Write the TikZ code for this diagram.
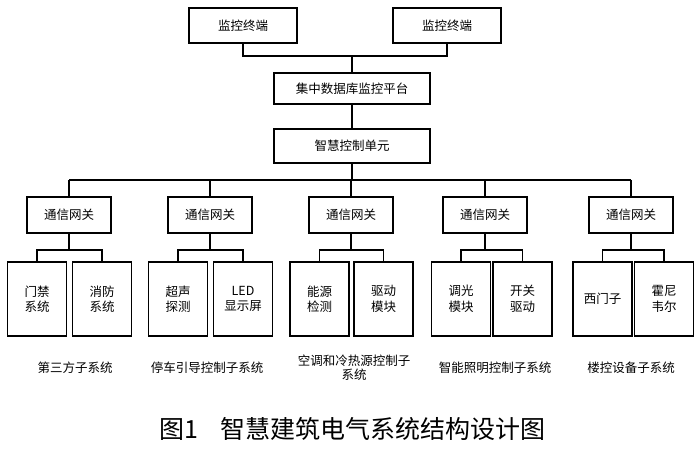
\documentclass[tikz,border=0pt]{standalone}
\usepackage{fontspec}
\setmainfont{Noto Sans CJK SC}
\usepackage{tikz}
\tikzset{
    termbox/.style={draw, minimum width=108pt, minimum height=35pt, inner sep=0pt, font=\fontsize{12.5}{16}\selectfont},
    platbox/.style={draw, minimum width=156pt, inner sep=0pt, font=\fontsize{12.5}{16}\selectfont},
    gatebox/.style={draw, minimum width=84pt, minimum height=36pt, inner sep=0pt, font=\fontsize{12.5}{16}\selectfont},
    devbox/.style={draw, minimum width=59pt, minimum height=74pt, inner sep=0pt, align=center, font=\fontsize{12.5}{15.5}\selectfont},
    sublabel/.style={align=center, inner sep=0pt, font=\fontsize{12.5}{14}\selectfont}
}

\begin{document}
\begin{tikzpicture}[x=1pt, y=-1pt, line width=1.6pt]
    \useasboundingbox (0,0) rectangle (700,454);

    % Monitoring terminals
    \node[termbox] (term1) at (243,25.5) {监控终端};
    \node[termbox] (term2) at (447,25.5) {监控终端};

    % Platform and control unit
    \node[platbox, minimum height=31pt] (plat) at (352,88.5) {集中数据库监控平台};
    \node[platbox, minimum height=34pt] (ctrl) at (352,146) {智慧控制单元};

    \coordinate (topjoin) at (352,56);
    \coordinate (busjoin) at (352,180);
    \draw (term1.south) |- (topjoin) -| (term2.south);
    \draw (topjoin) -- (plat.north);
    \draw (plat) -- (ctrl);
    \draw (ctrl) -- (busjoin);

    % Gateways and devices
    \foreach \i/\gx/\ax/\bx/\atext/\btext in {
        1/69/37/102/{门禁\\系统}/{消防\\系统},
        2/210/178/243/{超声\\探测}/{LED\\显示屏},
        3/351/319.5/383.5/{能源\\检测}/{驱动\\模块},
        4/485/461/522.5/{调光\\模块}/{开关\\驱动},
        5/631/602.5/664/{西门子}/{霍尼\\韦尔}}{
        \node[gatebox] (gate\i) at (\gx,215) {通信网关};
        \node[devbox] (deva\i) at (\ax,299) {\atext};
        \node[devbox] (devb\i) at (\bx,299) {\btext};
        \path (gate\i.south) ++(0,16) coordinate (gj\i);
        \draw (busjoin -| gate\i.north) -- (gate\i.north);
        \draw (gate\i.south) -- (gj\i);
        \draw (deva\i.north) |- (gj\i) -| (devb\i.north);
    }
    \draw (busjoin -| gate1.north) -- (busjoin -| gate5.north);

    % Subsystem labels
    \foreach \i/\lx/\ltext in {1/75/第三方子系统, 2/207/停车引导控制子系统,
        3/354/{空调和冷热源控制子\\系统}, 4/495/智能照明控制子系统, 5/631/楼控设备子系统}
        \node[sublabel] (lab\i) at (\lx,368) {\ltext};

    % Caption
    \node[inner sep=0pt, font=\fontsize{25}{30}\selectfont] (caption) at (352.5,429) {图1\hspace{0.9em}智慧建筑电气系统结构设计图};
\end{tikzpicture}
\end{document}
